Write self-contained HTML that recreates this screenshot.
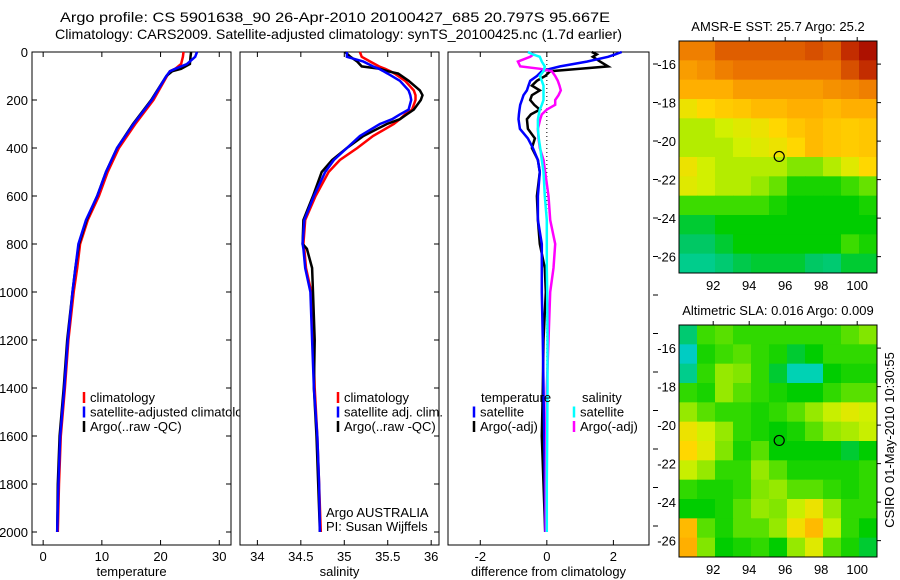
<!DOCTYPE html>
<html><head><meta charset="utf-8">
<style>
html,body{margin:0;padding:0;background:#fff;}
svg{display:block;font-family:"Liberation Sans",Arial,sans-serif;}
</style></head>
<body>
<svg id="fig" width="900" height="580" viewBox="0 0 900 580" xmlns="http://www.w3.org/2000/svg">
<rect x="0" y="0" width="900" height="580" fill="#fff"/>
<text x="60" y="22" font-size="14" textLength="550" lengthAdjust="spacingAndGlyphs">Argo profile: CS 5901638_90 26-Apr-2010 20100427_685 20.797S 95.667E</text>
<text x="55" y="39" font-size="14" textLength="567" lengthAdjust="spacingAndGlyphs">Climatology: CARS2009. Satellite-adjusted climatology: synTS_20100425.nc (1.7d earlier)</text>
<g id="layer"></g>
</svg>
<script>
// ---- profile data ----
const depthT = [0,20,50,70,80,100,200,300,400,500,600,700,800,900,1000,1200,1400,1600,1800,2000];
const tempClim = [23.9,23.8,23.5,22.5,21.6,21.1,18.8,15.7,12.9,11.0,9.5,7.6,6.3,5.8,5.2,4.3,3.7,3.0,2.7,2.5];
const tempSat = [26.2,25.9,24.5,22.5,21.6,21.0,18.5,15.4,12.6,10.7,9.2,7.3,6.0,5.5,5.0,4.2,3.6,2.9,2.6,2.4];
const tempArgo = [25.2,25.1,25.0,23.5,22.0,21.0,18.4,15.3,12.6,10.7,9.2,7.4,6.1,5.5,5.0,4.1,3.5,2.8,2.5,2.4];

const depthS = [0,20,40,60,70,80,90,120,160,180,200,240,260,280,300,350,400,450,500,600,700,800,820,900,1000,1200,1400,1600,1800,2000];
const salClim = [35.18,35.2,35.3,35.4,35.47,35.53,35.58,35.7,35.8,35.82,35.82,35.78,35.7,35.64,35.57,35.33,35.15,34.95,34.82,34.67,34.55,34.53,34.54,34.56,34.62,34.64,34.66,34.69,34.71,34.73];
const salSat = [35.03,35.03,35.22,35.33,35.4,35.45,35.5,35.64,35.74,35.76,35.77,35.74,35.64,35.55,35.41,35.18,35.03,34.88,34.78,34.65,34.54,34.52,34.53,34.55,34.61,34.63,34.65,34.69,34.71,34.72];
const salArgo = [35.01,35.07,35.15,35.2,35.41,35.5,35.62,35.74,35.87,35.9,35.88,35.8,35.72,35.64,35.49,35.22,35.03,34.86,34.74,34.64,34.53,34.52,34.57,34.63,34.64,34.66,34.65,34.68,34.7,34.72];

const depthD = [0,10,20,40,60,70,80,100,120,140,160,180,200,220,240,260,280,320,360,400,450,500,600,700,800,900,1000,1200,1400,1600,1800,2000];
const diffTempSat = [2.25,2.05,1.84,1.2,0.4,0.1,-0.15,-0.3,-0.5,-0.55,-0.6,-0.7,-0.75,-0.8,-0.82,-0.84,-0.85,-0.81,-0.57,-0.42,-0.27,-0.21,-0.27,-0.27,-0.15,-0.15,-0.15,-0.12,-0.1,-0.08,-0.06,-0.05];
const diffTempArgo = [1.35,1.5,1.38,1.6,1.84,1.0,0.1,-0.05,-0.3,-0.45,-0.21,-0.45,-0.5,-0.38,-0.21,-0.48,-0.6,-0.57,-0.36,-0.45,-0.27,-0.21,-0.3,-0.27,-0.21,-0.06,-0.03,-0.1,-0.12,-0.15,-0.1,-0.05];
const diffSalSat = [-0.57,-0.42,-0.21,-0.15,-0.06,-0.08,-0.1,-0.21,-0.15,-0.1,-0.1,-0.1,-0.1,-0.15,-0.21,-0.24,-0.27,-0.27,-0.24,-0.2,-0.15,-0.1,-0.06,0,0,0,0.01,0.02,0.02,0.01,0.0,0.0];
const diffSalArgo = [-0.57,-0.4,-0.5,-0.87,-0.8,-0.2,0.15,0.25,0.33,0.38,0.42,0.35,0.25,0.25,0.0,-0.15,-0.2,-0.27,-0.25,-0.21,-0.1,-0.05,0.05,0.1,0.25,0.2,0.1,0.05,0.0,-0.02,-0.03,-0.03];

const depthTicks = [0,200,400,600,800,1000,1200,1400,1600,1800,2000];
const tempTicks = [0,10,20,30];
const salTicks = [34,34.5,35,35.5,36];
const salTickLabels = ["34","34.5","35","35.5","36"];
const diffTicks = [-2,0,2];

// ---- map data (normalised colour index 0..1), rows north->south, cols west->east ----
const sstRow0 = [0.8,0.8,0.85,0.85,0.85,0.85,0.85,0.87,0.85,0.92,0.97];
const sstRow1 = [0.75,0.77,0.8,0.82,0.82,0.82,0.82,0.82,0.82,0.87,0.92];
const sstRow2 = [0.72,0.72,0.72,0.75,0.75,0.75,0.75,0.75,0.77,0.78,0.8];
const sstRow3 = [0.62,0.65,0.67,0.68,0.7,0.7,0.72,0.72,0.7,0.72,0.72];
const sstRow4 = [0.55,0.55,0.58,0.6,0.62,0.65,0.68,0.7,0.68,0.67,0.68];
const sstRow5 = [0.55,0.55,0.55,0.58,0.6,0.62,0.65,0.7,0.68,0.67,0.68];
const sstRow6 = [0.62,0.58,0.55,0.55,0.55,0.55,0.5,0.5,0.55,0.6,0.65];
const sstRow7 = [0.6,0.58,0.55,0.55,0.52,0.48,0.42,0.42,0.42,0.45,0.48];
const sstRow8 = [0.45,0.45,0.45,0.45,0.45,0.42,0.4,0.4,0.4,0.4,0.42];
const sstRow9 = [0.38,0.38,0.4,0.4,0.4,0.4,0.4,0.4,0.4,0.4,0.4];
const sstRow10 = [0.36,0.36,0.38,0.4,0.4,0.4,0.4,0.4,0.4,0.45,0.42];
const sstRow11 = [0.33,0.33,0.35,0.37,0.38,0.38,0.38,0.36,0.35,0.38,0.38];

const slaRow0 = [0.35,0.45,0.47,0.44,0.44,0.44,0.44,0.44,0.44,0.47,0.5];
const slaRow1 = [0.28,0.42,0.45,0.47,0.44,0.42,0.38,0.4,0.44,0.44,0.44];
const slaRow2 = [0.33,0.44,0.52,0.5,0.44,0.38,0.3,0.3,0.4,0.42,0.42];
const slaRow3 = [0.44,0.42,0.52,0.47,0.44,0.42,0.4,0.4,0.44,0.47,0.47];
const slaRow4 = [0.52,0.47,0.44,0.44,0.42,0.44,0.47,0.52,0.57,0.6,0.58];
const slaRow5 = [0.62,0.58,0.52,0.44,0.42,0.4,0.42,0.47,0.52,0.54,0.57];
const slaRow6 = [0.65,0.6,0.5,0.42,0.47,0.4,0.4,0.4,0.4,0.38,0.4];
const slaRow7 = [0.57,0.52,0.44,0.44,0.52,0.47,0.42,0.42,0.42,0.42,0.44];
const slaRow8 = [0.44,0.42,0.42,0.44,0.5,0.52,0.47,0.47,0.44,0.42,0.44];
const slaRow9 = [0.4,0.4,0.42,0.47,0.52,0.5,0.57,0.62,0.52,0.44,0.44];
const slaRow10 = [0.7,0.47,0.42,0.47,0.47,0.52,0.63,0.7,0.57,0.44,0.4];
const slaRow11 = [0.72,0.5,0.4,0.42,0.44,0.4,0.52,0.6,0.47,0.42,0.38];

const lonTicks = [92,94,96,98,100];
const latTicks = [16,18,20,22,24,26];
const argoLon = 95.667, argoLat = 20.797;

const NS = "http://www.w3.org/2000/svg";
const layer = document.getElementById("layer");
function mk(tag, attrs, parent){ const e=document.createElementNS(NS,tag); for(const k in attrs) e.setAttribute(k,attrs[k]); (parent||layer).appendChild(e); return e; }
function txt(x,y,s,size,anchor,parent){ const t=mk("text",{x:x,y:y,"font-size":size||12,"text-anchor":anchor||"start"},parent); t.textContent=s; return t; }

const Y0=52, Y1=545;
const yDepth = d => Y0 + d*0.24;

function panel(name, x0, x1, vmin, vmax, xlabel){
  const g = mk("g",{});
  
  
  const r = mk("rect",{x:x0,y:Y0,width:x1-x0,height:Y1-Y0,fill:"#fff",stroke:"#000","stroke-width":1},g);
  
  
  const xs = v => x0 + (v-vmin)/(vmax-vmin)*(x1-x0);
  const lab = txt((x0+x1)/2, 576, xlabel, 13, "middle", g);
  
  
  return {g, xs};
}
function series(p, xs, vals, depths, color, name){
  const pts = vals.map((v,i)=> xs(v).toFixed(1)+","+yDepth(depths[i]).toFixed(1)).join(" ");
  const l = mk("polyline",{points:pts,fill:"none",stroke:color,"stroke-width":2.5,"stroke-linejoin":"miter"},p.g);
  
  
}
function xTicks(p, xs, ticks, labels, name){
  ticks.forEach((t,i)=>{
    const x = xs(t);
    mk("line",{x1:x,y1:Y1,x2:x,y2:Y1-5,stroke:"#000"},p.g);
    mk("line",{x1:x,y1:Y0,x2:x,y2:Y0+5,stroke:"#000"},p.g);
    const l = txt(x, 561, labels[i], 13, "middle", p.g);
    
    
  });
}
function legend(p, x, y, entries, name){
  entries.forEach((e,i)=>{
    const yy = y + i*14.5;
    mk("line",{x1:x,y1:yy-10,x2:x,y2:yy+1,stroke:e[0],"stroke-width":2.5},p.g);
    const t = txt(x+6, yy, e[1], 13, "start", p.g);
    
    
  });
}

// Panel 1: temperature
const p1 = panel("temperature-panel", 32, 231, -1.9, 32, "temperature");
depthTicks.forEach(d=>{
  const y=yDepth(d);
  mk("line",{x1:32,y1:y,x2:37,y2:y,stroke:"#000"},p1.g);
  mk("line",{x1:231,y1:y,x2:226,y2:y,stroke:"#000"},p1.g);
  const l = txt(28, y+5, String(d), 13, "end", p1.g);
  
  
});
xTicks(p1, p1.xs, tempTicks, tempTicks.map(String), "temperature");
series(p1, p1.xs, tempClim, depthT, "#ff0000", "temperature-climatology-line");
series(p1, p1.xs, tempArgo, depthT, "#000000", "temperature-argo-line");
series(p1, p1.xs, tempSat, depthT, "#0000ff", "temperature-satellite-line");
legend(p1, 84, 402, [["#ff0000","climatology"],["#0000ff","satellite-adjusted climatology"],["#000000","Argo(..raw -QC)"]], "temperature-legend-entry");

// Panel 2: salinity
const p2 = panel("salinity-panel", 240, 439, 33.8, 36.09, "salinity");
depthTicks.forEach(d=>{
  const y=yDepth(d);
  mk("line",{x1:439,y1:y,x2:434,y2:y,stroke:"#000"},p2.g);
});
xTicks(p2, p2.xs, salTicks, salTickLabels, "salinity");
series(p2, p2.xs, salClim, depthS, "#ff0000", "salinity-climatology-line");
series(p2, p2.xs, salArgo, depthS, "#000000", "salinity-argo-line");
series(p2, p2.xs, salSat, depthS, "#0000ff", "salinity-satellite-line");
legend(p2, 338, 402, [["#ff0000","climatology"],["#0000ff","satellite adj. clim."],["#000000","Argo(..raw -QC)"]], "salinity-legend-entry");
const c1=txt(326,517,"Argo AUSTRALIA",13,"start",p2.g);


const c2=txt(326,531,"PI: Susan Wijffels",13,"start",p2.g);



// Panel 3: differences
const p3 = panel("difference-panel", 448, 649, -2.97, 3.07, "difference from climatology");
mk("line",{x1:p3.xs(0),y1:Y0,x2:p3.xs(0),y2:532,stroke:"#000","stroke-dasharray":"1,3"},p3.g);
xTicks(p3, p3.xs, diffTicks, diffTicks.map(String), "difference");
for(let y=64; y<=545; y+=38.5){ mk("line",{x1:653,y1:y,x2:658,y2:y,stroke:"#000"}); }
series(p3, p3.xs, diffTempArgo, depthD, "#000000", "temperature-argo-diff-line");
series(p3, p3.xs, diffTempSat, depthD, "#0000ff", "temperature-satellite-diff-line");
series(p3, p3.xs, diffSalArgo, depthD, "#ff00ff", "salinity-argo-diff-line");
series(p3, p3.xs, diffSalSat, depthD, "#00ffff", "salinity-satellite-diff-line");
const lt=txt(481,402,"temperature",13,"start",p3.g);


const ls=txt(582,402,"salinity",13,"start",p3.g);


legend(p3, 474, 416.5, [["#0000ff","satellite"],["#000000","Argo(-adj)"]], "difference-temp-legend-entry");
legend(p3, 574, 416.5, [["#00ffff","satellite"],["#ff00ff","Argo(-adj)"]], "difference-sal-legend-entry");

// ---- maps ----
const cstops = [[0,[0,0,160]],[0.2,[0,180,255]],[0.3,[0,210,180]],[0.36,[0,200,100]],[0.4,[0,205,0]],[0.45,[60,220,0]],[0.5,[130,230,0]],[0.58,[210,240,0]],[0.65,[255,215,0]],[0.72,[255,175,0]],[0.82,[235,115,0]],[0.92,[195,45,0]],[1,[160,0,0]]];
function cmap(v){
  for(let i=1;i<cstops.length;i++){
    if(v<=cstops[i][0]){ const a=cstops[i-1],b=cstops[i],f=(v-a[0])/(b[0]-a[0]);
      return "rgb("+a[1].map((c,k)=>Math.round(c+(b[1][k]-c)*f)).join(",")+")"; }
  }
  return "rgb(160,0,0)";
}
const LON0=90.1, LON1=101.1, LAT0=14.8, LAT1=26.85;
function map(name, top, bottom, rows, title){
  const g = mk("g",{});
  
  
  const x0=679, x1=877;
  const lx = lon => x0 + (lon-LON0)/(LON1-LON0)*(x1-x0);
  const ly = lat => top + (lat-LAT0)/(LAT1-LAT0)*(bottom-top);
  const nr=rows.length, nc=rows[0].length;
  rows.forEach((row,r)=>row.forEach((v,c)=>{
    const cx0 = lx(LON0+(LON1-LON0)*c/nc), cx1 = lx(LON0+(LON1-LON0)*(c+1)/nc);
    const cy0 = ly(LAT0+(LAT1-LAT0)*r/nr), cy1 = ly(LAT0+(LAT1-LAT0)*(r+1)/nr);
    const cell = mk("rect",{x:cx0,y:cy0,width:cx1-cx0+0.5,height:cy1-cy0+0.5,fill:cmap(v)},g);
    
    
  }));
  mk("rect",{x:x0,y:top,width:x1-x0,height:bottom-top,fill:"none",stroke:"#000"},g);
  lonTicks.forEach(l=>{ const x=lx(l);
    mk("line",{x1:x,y1:top,x2:x,y2:top-4,stroke:"#000"},g);
    const t=txt(x,bottom+17,String(l),13,"middle",g);
    
    
  });
  latTicks.forEach(l=>{ const y=ly(l);
    mk("line",{x1:x1,y1:y,x2:x1+4,y2:y,stroke:"#000"},g);
    const t=txt(x0-3,y+5,"-"+l,13,"end",g);
    
    
  });
  const c = mk("circle",{cx:lx(argoLon),cy:ly(argoLat),r:5,fill:"none",stroke:"#000","stroke-width":1.2},g);
  
  
  const t = txt((x0+x1)/2, top-10, title, 13, "middle", g);
  
  
}
map("sst-map", 41, 273, [sstRow0,sstRow1,sstRow2,sstRow3,sstRow4,sstRow5,sstRow6,sstRow7,sstRow8,sstRow9,sstRow10,sstRow11], "AMSR-E SST: 25.7 Argo: 25.2");
map("sla-map", 325, 557, [slaRow0,slaRow1,slaRow2,slaRow3,slaRow4,slaRow5,slaRow6,slaRow7,slaRow8,slaRow9,slaRow10,slaRow11], "Altimetric SLA: 0.016 Argo: 0.009");
const stamp = txt(0,0,"CSIRO 01-May-2010 10:30:55",13,"middle");
stamp.setAttribute("transform","translate(894,440) rotate(-90)");


</script>
</body></html>
